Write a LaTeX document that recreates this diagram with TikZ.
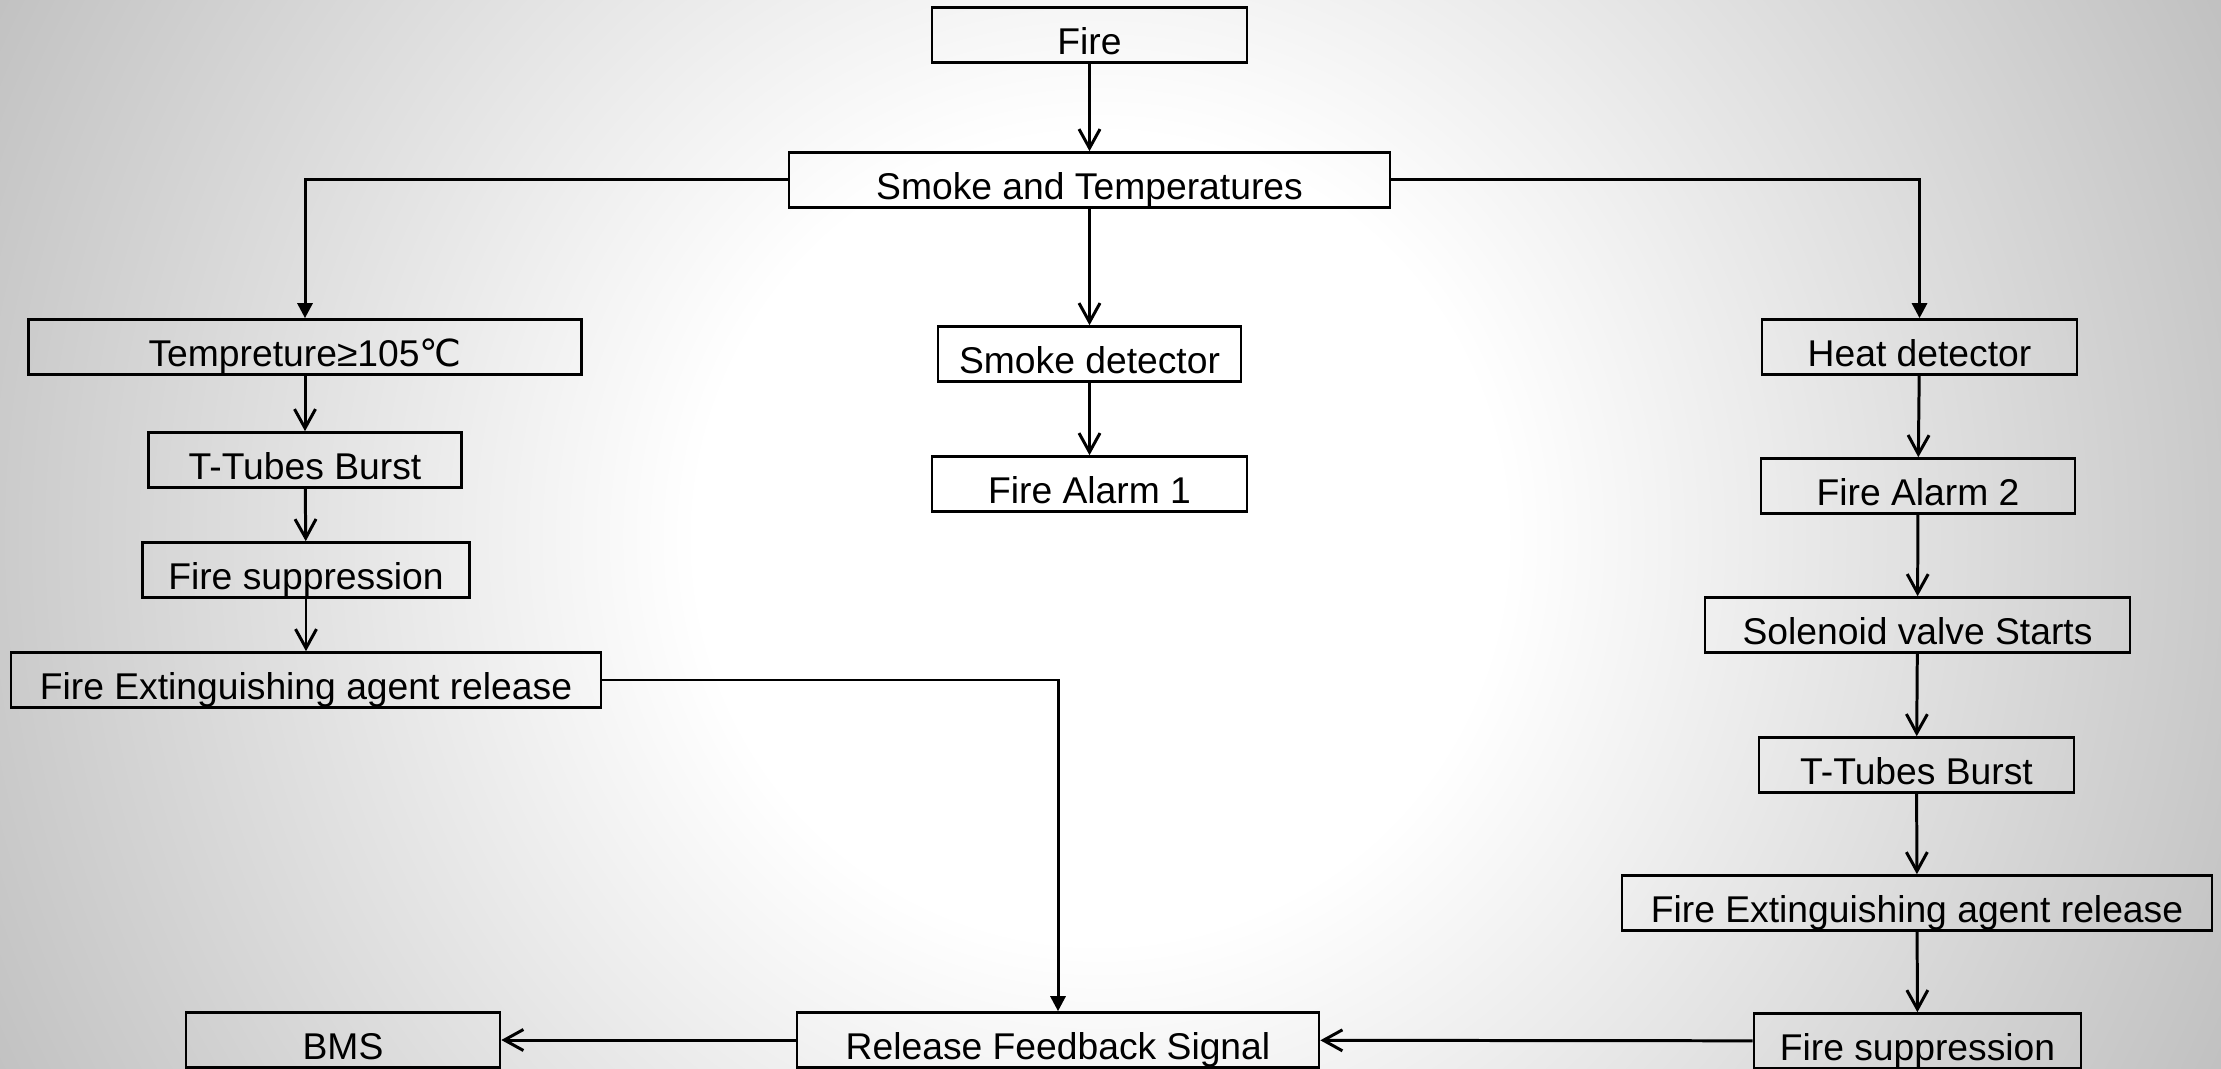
\documentclass[tikz,border=0pt]{standalone}
\usepackage{fontspec}
\setmainfont{Liberation Sans}
\newfontfamily\symfont{DejaVu Sans}
\usetikzlibrary{arrows.meta}
\pgfdeclareradialshading{fondo}{\pgfpointorigin}{color(0bp)=(white); color(8bp)=(white); color(25bp)=(gray!50); color(50bp)=(gray!50)}

\begin{document}
\begin{tikzpicture}[every node/.style={font=\fontsize{10.6}{12}\selectfont},
  caja/.style={draw, line width=0.75pt, minimum height=0.55cm, inner sep=0pt,
    text height=4.2mm, text depth=0.25mm},
  flecha/.style={line width=0.85pt, -{Straight Barb[length=1.9mm, width=2.1mm]}},
  flechallena/.style={line width=0.85pt, -{Triangle[length=1.5mm, width=1.5mm]}}]
  % fondo
  \useasboundingbox (0,0) rectangle (22.21,10.68);
  \begin{scope}
    \clip (0,0) rectangle (22.21,10.68);
    \shade[shading=fondo] (11.0,5.3) circle (12.6);
  \end{scope}
  % arriba
  \node[caja, minimum width=3.15cm] (fuego) at (10.895,10.33) {Fire};
  \node[caja, minimum width=6.01cm] (humo) at (10.895,8.88) {Smoke and Temperatures};
  % rama izquierda
  \node[caja, minimum width=5.53cm] (temp) at (3.05,7.21) {Tempreture≥105{\symfont ℃}};
  \node[caja, minimum width=3.13cm] (tubosA) at (3.05,6.08) {T-Tubes Burst};
  \node[caja, minimum width=3.27cm] (supA) at (3.06,4.98) {Fire suppression};
  \node[caja, minimum width=5.90cm] (agenteA) at (3.06,3.88) {Fire Extinguishing agent release};
  % rama central
  \node[caja, minimum width=3.03cm] (detHumo) at (10.895,7.14) {Smoke detector};
  \node[caja, minimum width=3.15cm] (alarma1) at (10.895,5.84) {Fire Alarm 1};
  % rama derecha
  \node[caja, minimum width=3.15cm] (detCalor) at (19.195,7.21) {Heat detector};
  \node[caja, minimum width=3.14cm] (alarma2) at (19.18,5.82) {Fire Alarm 2};
  \node[caja, minimum width=4.25cm] (valvula) at (19.175,4.43) {Solenoid valve Starts};
  \node[caja, minimum width=3.15cm] (tubosB) at (19.165,3.03) {T-Tubes Burst};
  \node[caja, minimum width=5.90cm] (agenteB) at (19.17,1.65) {Fire Extinguishing agent release};
  \node[caja, minimum width=3.27cm] (supB) at (19.175,0.27) {Fire suppression};
  % abajo
  \node[caja, minimum width=5.22cm] (senal) at (10.58,0.28) {Release Feedback Signal};
  \node[caja, minimum width=3.14cm] (bms) at (3.43,0.28) {BMS};
  % flechas
  \draw[flecha] (fuego) -- (humo);
  \draw[flechallena] (humo.west) -| (temp.north);
  \draw[flechallena] (humo.east) -| (detCalor.north);
  \draw[flecha] (humo) -- (detHumo);
  \draw[flecha] (detHumo) -- (alarma1);
  \draw[flecha] (temp) -- (tubosA);
  \draw[flecha] (tubosA) -- (supA);
  \draw[flecha] (supA) -- (agenteA);
  \draw[flechallena] (agenteA.east) -| (senal.north);
  \draw[flecha] (detCalor) -- (alarma2);
  \draw[flecha] (alarma2) -- (valvula);
  \draw[flecha] (valvula) -- (tubosB);
  \draw[flecha] (tubosB) -- (agenteB);
  \draw[flecha] (agenteB) -- (supB);
  \draw[flecha] (supB) -- (senal);
  \draw[flecha] (senal) -- (bms);
\end{tikzpicture}
\end{document}
